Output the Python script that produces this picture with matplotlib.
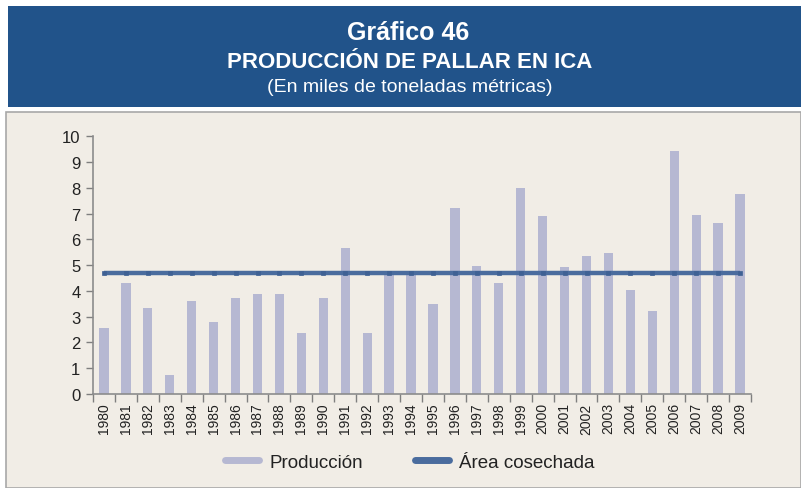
import matplotlib
matplotlib.use("Agg")
import matplotlib.pyplot as plt
from matplotlib.patches import Rectangle
from matplotlib.lines import Line2D
import numpy as np

plt.rcParams['font.family'] = ['Liberation Sans', 'DejaVu Sans']

years = [str(y) for y in range(1980, 2010)]
produccion = [2.55, 4.31, 3.32, 0.74, 3.62, 2.79, 3.71, 3.88, 3.88, 2.38,
              3.71, 5.65, 2.35, 4.72, 4.72, 3.48, 7.21, 4.97, 4.32, 7.99,
              6.91, 4.93, 5.36, 5.47, 4.04, 3.22, 9.43, 6.95, 6.64, 7.77]
area_cosechada = [4.70] * 30

W, H = 801, 489
fig = plt.figure(figsize=(W / 100, H / 100), dpi=100)
fig.patch.set_facecolor('white')

# header band
fig.patches.append(Rectangle((8 / W, 1 - 108 / H), (W - 8) / W, 101 / H,
                             transform=fig.transFigure, facecolor='#21538A',
                             edgecolor='none', zorder=-2))
# beige panel
fig.patches.append(Rectangle((6 / W, 0), (W - 6) / W, 1 - 113 / H,
                             transform=fig.transFigure, facecolor='#F1EDE6',
                             edgecolor='#A8A8A8', linewidth=1.2, zorder=-2))

fig.text(408 / W, 1 - 33 / H, 'Gráfico 46', color='white', fontsize=18,
         fontweight='bold', ha='center', va='center')
fig.text(410 / W, 1 - 62 / H, 'PRODUCCIÓN DE PALLAR EN ICA', color='white',
         fontsize=16, fontweight='bold', ha='center', va='center')
fig.text(410 / W, 1 - 88 / H, '(En miles de toneladas métricas)', color='white',
         fontsize=14, ha='center', va='center')

ax = fig.add_axes([93 / W, 1 - 395 / H, (751 - 93) / W, (395 - 137.3) / H])
ax.set_zorder(2)
ax.set_facecolor('none')
x = np.arange(len(years))
ax.bar(x, produccion, width=0.42, color='#B6B8D2', zorder=2)
ax.plot(x, area_cosechada, color='#4A6C9E', lw=3.2, marker='s', ms=3,
        mfc='#3F6194', mec='#3F6194', mew=0.5,
        solid_capstyle='butt', zorder=3)

ax.set_xlim(-0.5, len(years) - 0.5)
ax.set_ylim(0, 10)
ax.set_yticks(range(0, 11))
ax.tick_params(axis='y', labelsize=12, colors='#7F7F7F', labelcolor='#222222',
               length=5, width=1, pad=4)
ax.set_xticks(np.arange(-0.5, len(years), 1.0))
ax.set_xticklabels([])
ax.tick_params(axis='x', which='major', length=6, width=1, colors='#7F7F7F')
ax.set_xticks(x, minor=True)
ax.set_xticklabels(years, minor=True, rotation=90, fontsize=10, color='#222222')
ax.tick_params(axis='x', which='minor', length=0, pad=6)
for s in ['top', 'right']:
    ax.spines[s].set_visible(False)
for s in ['left', 'bottom']:
    ax.spines[s].set_color('#8C8C8C')
    ax.spines[s].set_linewidth(1.2)

handles = [Line2D([], [], color='#B6B8D2', lw=5, solid_capstyle='round'),
           Line2D([], [], color='#4A6C9E', lw=5, solid_capstyle='round')]
leg = fig.legend(handles, ['Producción', 'Área cosechada'], loc='center',
                 bbox_to_anchor=(410 / W, 1 - 463 / H), ncol=2, frameon=False,
                 fontsize=13.5, handlelength=1.8, handletextpad=0.55,
                 columnspacing=2.8, labelcolor='#222222')
leg.set_zorder(3)

fig.savefig('out.png', dpi=100, facecolor=fig.get_facecolor())
